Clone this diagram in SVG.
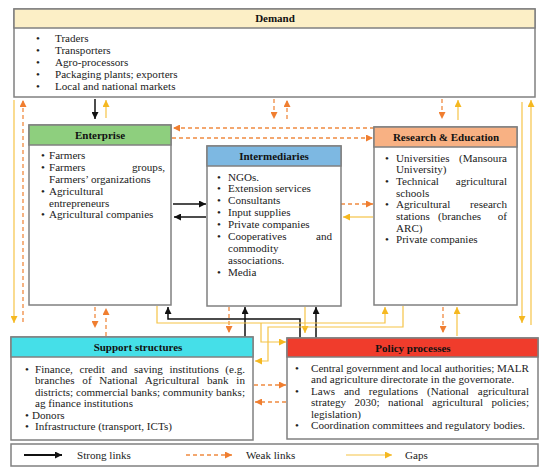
<svg xmlns="http://www.w3.org/2000/svg" width="550" height="475" viewBox="0 0 550 475">
<defs>
<style>
.box{fill:#fff;stroke:#808080;stroke-width:1.5}
.ln{stroke:#808080;stroke-width:1.5}
.t{font-family:"Liberation Serif","Times New Roman",serif;font-size:11.1px;fill:#222}
.h{font-family:"Liberation Serif","Times New Roman",serif;font-size:11px;font-weight:bold;fill:#111;text-anchor:middle}
.e{text-anchor:end}
.b{text-anchor:middle}
.strong{fill:none;stroke:#111;stroke-width:1.5;marker-end:url(#mk)}
.weak{fill:none;stroke:#f08a40;stroke-width:1.3;stroke-dasharray:4 3;marker-end:url(#mo)}
.gap{fill:none;stroke:#f6c447;stroke-width:1.2;marker-end:url(#my)}
.gapn{fill:none;stroke:#f6c447;stroke-width:1.2}
</style>
<marker id="mk" viewBox="0 0 10 10" refX="10" refY="5" markerWidth="7" markerHeight="7" markerUnits="userSpaceOnUse" orient="auto"><path d="M0,0 L10,5 L0,10 z" fill="#111"/></marker>
<marker id="mo" viewBox="0 0 10 10" refX="10" refY="5" markerWidth="7" markerHeight="7" markerUnits="userSpaceOnUse" orient="auto"><path d="M0,0 L10,5 L0,10 z" fill="#f07e30"/></marker>
<marker id="my" viewBox="0 0 10 10" refX="10" refY="5" markerWidth="7" markerHeight="7" markerUnits="userSpaceOnUse" orient="auto"><path d="M0,0 L10,5 L0,10 z" fill="#f5b820"/></marker>
</defs>
<rect width="550" height="475" fill="#fff"/>

<g id="connectors">
<path class="strong" d="M95,99 V119"/>
<path class="strong" d="M173,204 H206"/>
<path class="strong" d="M206,217 H174"/>
<path class="strong" d="M300,338 V319 H168 V307"/>
<path class="strong" d="M245,337 V307"/>
<path class="strong" d="M316,338 V307"/>

<path class="weak" d="M23,322 V100"/>
<path class="weak" d="M274,99 V119"/>
<path class="weak" d="M287,119 V100"/>
<path class="weak" d="M442,99 V119"/>
<path class="weak" d="M374,128 H173"/>
<path class="weak" d="M172,138 H373"/>
<path class="weak" d="M341,204 H373"/>
<path class="weak" d="M95,307 V328"/>
<path class="weak" d="M106,336 V308"/>
<path class="weak" d="M229,307 V333"/>
<path class="weak" d="M443,307 V333"/>
<path class="weak" d="M254,385 H286"/>
<path class="weak" d="M286,402 H255"/>

<path class="gap" d="M14,100 V323"/>
<path class="gap" d="M106,118 V100"/>
<path class="gap" d="M458,120 V100"/>
<path class="gap" d="M522,102 V323"/>
<path class="gap" d="M531,325 V100"/>
<path class="gap" d="M373,217 H343"/>
<path class="gap" d="M305,307 V333"/>
<path class="gap" d="M457,336 V307"/>
<path class="gap" d="M157,306 V323 H385 V307"/>
<path class="gap" d="M261,323 V342 H286"/>
<path class="gap" d="M403,306 V327 H268 V361 H255"/>
</g>

<g id="demand">
<rect class="box" x="14" y="9" width="521" height="88"/>
<rect x="14" y="9" width="521" height="19" fill="#fcefc6" stroke="#808080" stroke-width="1.5"/>
<text class="h" x="275" y="22">Demand</text>
<text class="t b" x="38" y="42">•</text><text class="t" x="55" y="42">Traders</text>
<text class="t b" x="38" y="54">•</text><text class="t" x="55" y="54">Transporters</text>
<text class="t b" x="38" y="66">•</text><text class="t" x="55" y="66">Agro-processors</text>
<text class="t b" x="38" y="78">•</text><text class="t" x="55" y="78">Packaging plants; exporters</text>
<text class="t b" x="38" y="90">•</text><text class="t" x="55" y="90">Local and national markets</text>
</g>

<g id="enterprise">
<rect class="box" x="29" y="125" width="142" height="180"/>
<rect x="29" y="125" width="142" height="20" fill="#8ecf7e" stroke="#808080" stroke-width="1.5"/>
<text class="h" x="100" y="139">Enterprise</text>
<text class="t b" x="43" y="159">•</text><text class="t" x="49" y="159">Farmers</text>
<text class="t b" x="43" y="171">•</text><text class="t" x="49" y="171">Farmers</text><text class="t e" x="165" y="171">groups,</text>
<text class="t" x="49" y="183">Farmers’ organizations</text>
<text class="t b" x="43" y="195">•</text><text class="t" x="49" y="195">Agricultural</text>
<text class="t" x="49" y="206.5">entrepreneurs</text>
<text class="t b" x="43" y="218">•</text><text class="t" x="49" y="218">Agricultural companies</text>
</g>

<g id="intermediaries">
<rect class="box" x="207" y="146" width="134" height="160"/>
<rect x="207" y="146" width="134" height="20" fill="#7db8e2" stroke="#808080" stroke-width="1.5"/>
<text class="h" x="274" y="160">Intermediaries</text>
<text class="t b" x="219" y="180.5">•</text><text class="t" x="228" y="180.5">NGOs.</text>
<text class="t b" x="219" y="192.4">•</text><text class="t" x="228" y="192.4">Extension services</text>
<text class="t b" x="219" y="204.3">•</text><text class="t" x="228" y="204.3">Consultants</text>
<text class="t b" x="219" y="216.2">•</text><text class="t" x="228" y="216.2">Input supplies</text>
<text class="t b" x="219" y="228.1">•</text><text class="t" x="228" y="228.1">Private companies</text>
<text class="t b" x="219" y="240">•</text><text class="t" x="228" y="240">Cooperatives</text><text class="t e" x="332" y="240">and</text>
<text class="t" x="228" y="251.9">commodity</text>
<text class="t" x="228" y="263.8">associations.</text>
<text class="t b" x="219" y="275.7">•</text><text class="t" x="228" y="275.7">Media</text>
</g>

<g id="research">
<rect class="box" x="374" y="127" width="143" height="178"/>
<rect x="374" y="127" width="143" height="20" fill="#f8b183" stroke="#808080" stroke-width="1.5"/>
<text class="h" x="446" y="141">Research &amp; Education</text>
<text class="t b" x="387" y="161.5">•</text><text class="t" x="396" y="161.5">Universities</text><text class="t e" x="507" y="161.5">(Mansoura</text>
<text class="t" x="396" y="173.2">University)</text>
<text class="t b" x="387" y="184.9">•</text><text class="t" x="396" y="184.9">Technical</text><text class="t e" x="507" y="184.9">agricultural</text>
<text class="t" x="396" y="196.6">schools</text>
<text class="t b" x="387" y="208.3">•</text><text class="t" x="396" y="208.3">Agricultural</text><text class="t e" x="507" y="208.3">research</text>
<text class="t" x="396" y="220">stations</text><text class="t" x="438" y="220">(branches</text><text class="t e" x="507" y="220">of</text>
<text class="t" x="396" y="231.7">ARC)</text>
<text class="t b" x="387" y="243.4">•</text><text class="t" x="396" y="243.4">Private companies</text>
</g>

<g id="support">
<rect class="box" x="11" y="337" width="242" height="103"/>
<rect x="11" y="337" width="242" height="20" fill="#45dfe8" stroke="#808080" stroke-width="1.5"/>
<text class="h" x="138" y="351">Support structures</text>
<text class="t b" x="27" y="372.5">•</text><text class="t" x="35" y="372.5" word-spacing="3.8" textLength="210" lengthAdjust="spacing">Finance, credit and saving institutions (e.g.</text>
<text class="t" x="35" y="384" word-spacing="4.9" textLength="210" lengthAdjust="spacing">branches of National Agricultural bank in</text>
<text class="t" x="35" y="395.5" textLength="210" lengthAdjust="spacing">districts; commercial banks; community banks;</text>
<text class="t" x="35" y="407">ag finance institutions</text>
<text class="t b" x="27" y="418.5">•</text><text class="t" x="32" y="418.5">Donors</text>
<text class="t b" x="27" y="430">•</text><text class="t" x="35" y="430">Infrastructure (transport, ICTs)</text>
</g>

<g id="policy">
<rect class="box" x="287" y="338" width="251" height="101"/>
<rect x="287" y="338" width="251" height="19" fill="#f03c2c" stroke="#808080" stroke-width="1.5"/>
<text class="h" x="413" y="351.5">Policy processes</text>
<text class="t b" x="297" y="371.5">•</text><text class="t" x="311" y="371.5" textLength="218" lengthAdjust="spacing">Central government and local authorities; MALR</text>
<text class="t" x="311" y="382.8">and agriculture directorate in the governorate.</text>
<text class="t b" x="297" y="394.5">•</text><text class="t" x="311" y="394.5" word-spacing="6.1" textLength="218" lengthAdjust="spacing">Laws and regulations (National agricultural</text>
<text class="t" x="311" y="405.8" word-spacing="5.5" textLength="218" lengthAdjust="spacing">strategy 2030; national agricultural policies;</text>
<text class="t" x="311" y="417.5">legislation)</text>
<text class="t b" x="297" y="429">•</text><text class="t" x="311" y="429">Coordination committees and regulatory bodies.</text>
</g>

<g id="legend">
<rect class="box" x="11" y="444" width="527" height="22"/>
<path d="M24,455 H62" fill="none" stroke="#111" stroke-width="2" marker-end="url(#mk)"/>
<text class="t" x="77" y="459">Strong links</text>
<path d="M186,455 H232" fill="none" stroke="#f08a40" stroke-width="1.3" stroke-dasharray="4 3" marker-end="url(#mo)"/>
<text class="t" x="246" y="459">Weak links</text>
<path d="M346,455 H392" fill="none" stroke="#f6c447" stroke-width="1.2" marker-end="url(#my)"/>
<text class="t" x="405" y="459">Gaps</text>
</g>
</svg>
